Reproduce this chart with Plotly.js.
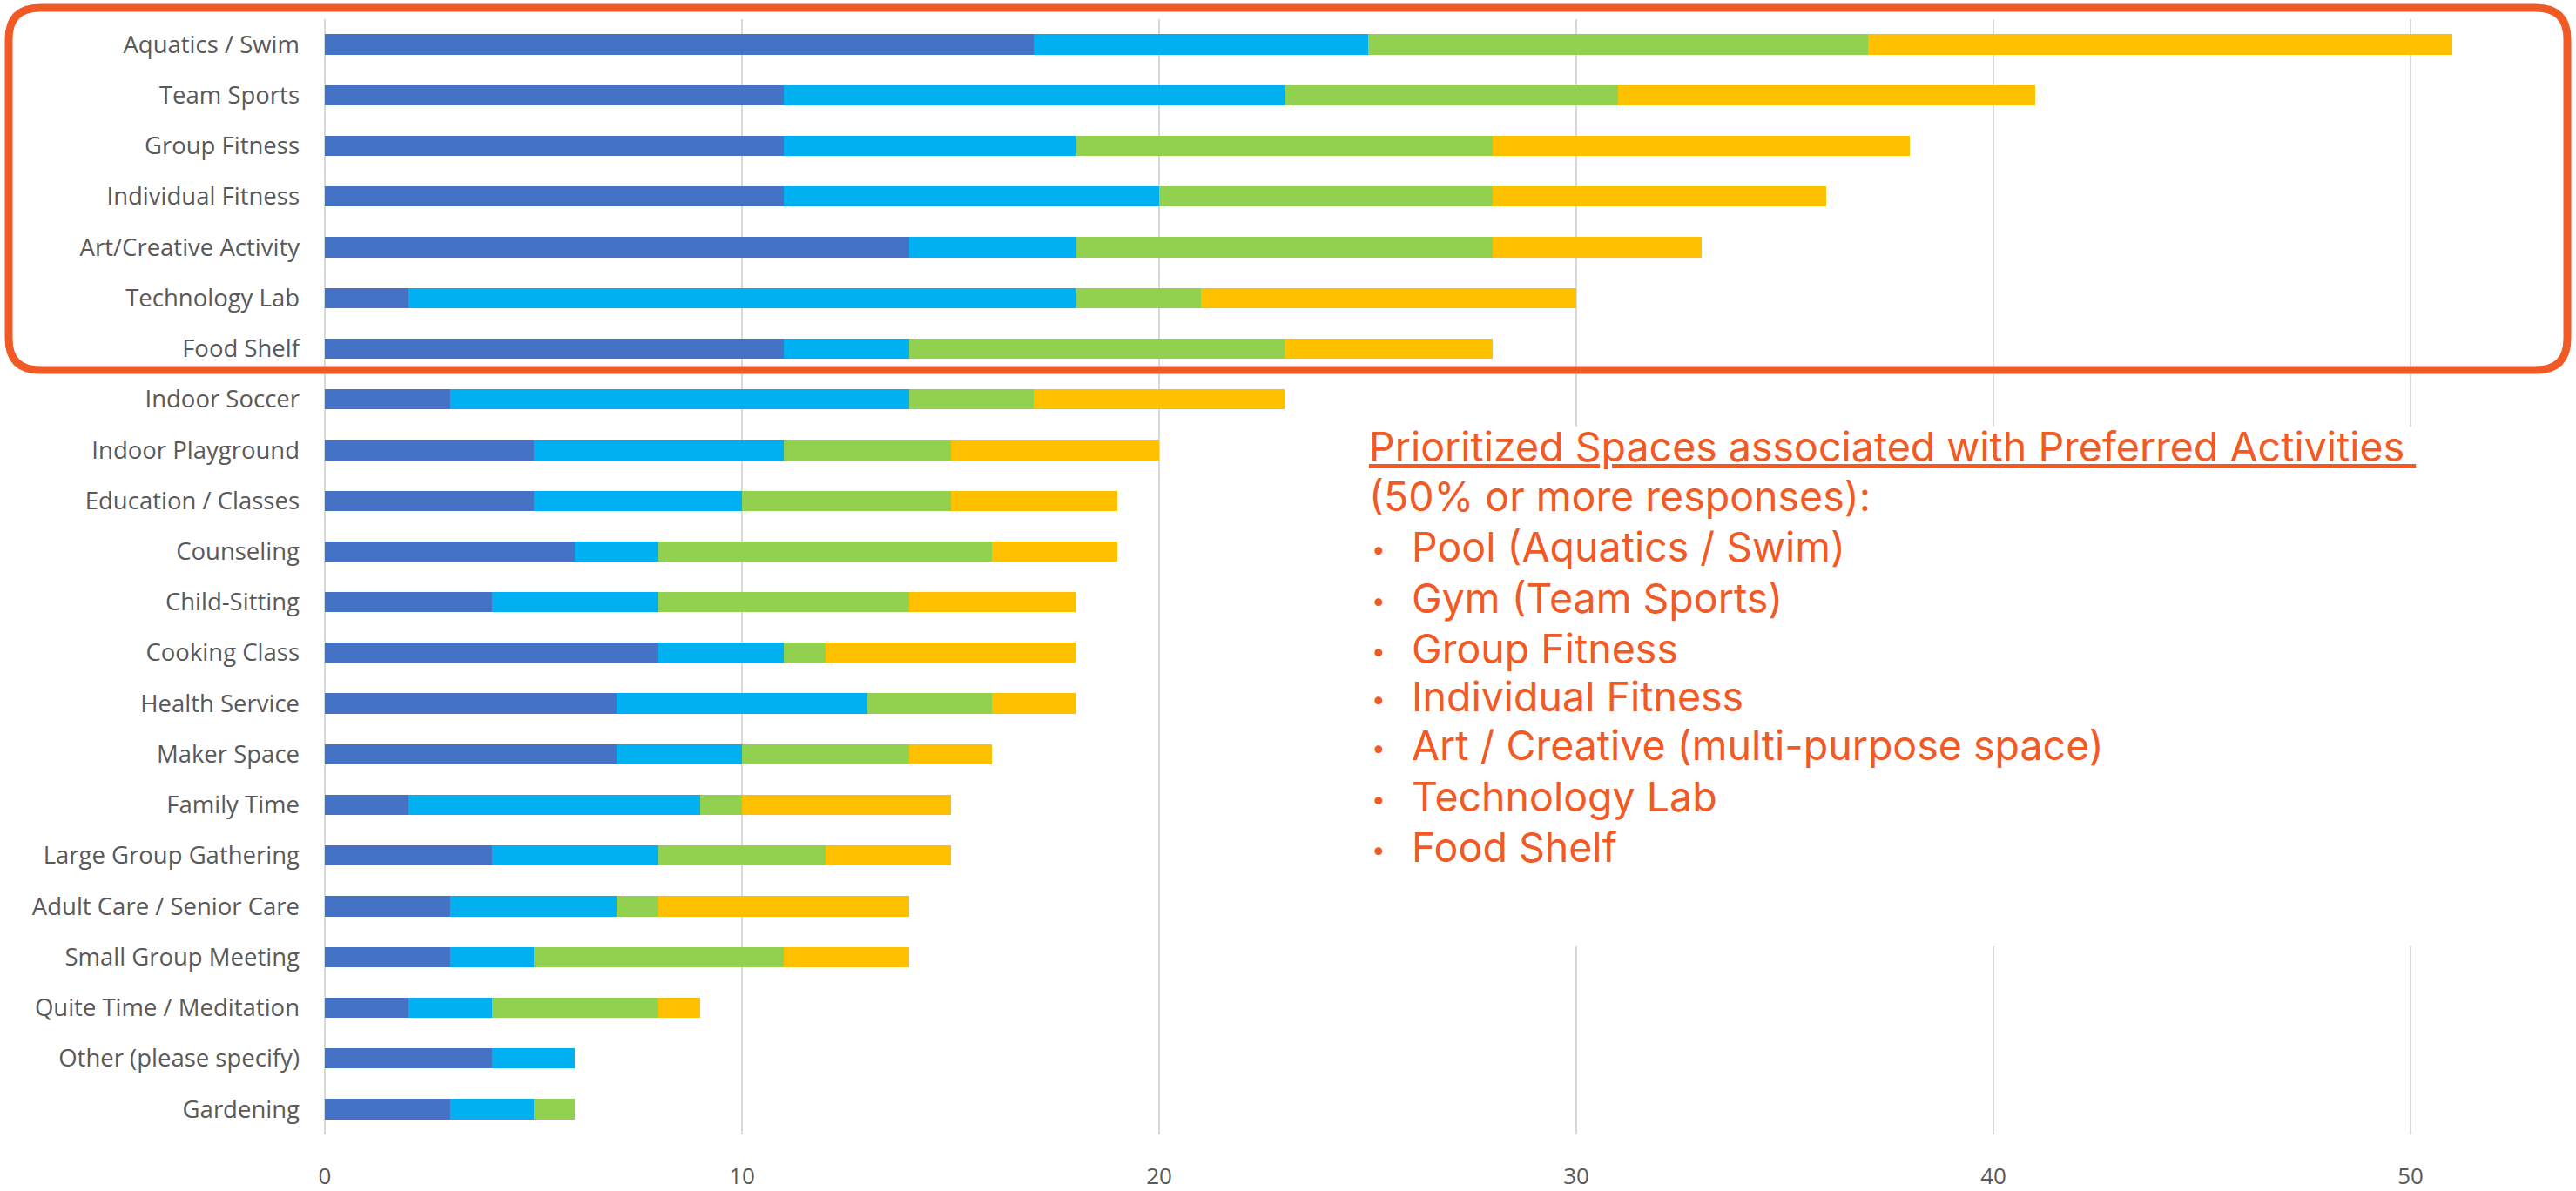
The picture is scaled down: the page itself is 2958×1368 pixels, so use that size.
<!DOCTYPE html>
<html>
<head>
<meta charset="utf-8">
<script src="https://cdn.plot.ly/plotly-3.0.1.min.js"></script>
<style>html,body{margin:0;padding:0;background:#fff;}#chart{width:2958px;height:1368px;}</style>
</head>
<body>
<div id="chart"></div>
<script>
// ---- data ----
const categories = [
  "Aquatics / Swim","Team Sports","Group Fitness","Individual Fitness","Art/Creative Activity",
  "Technology Lab","Food Shelf","Indoor Soccer","Indoor Playground","Education / Classes",
  "Counseling","Child-Sitting","Cooking Class","Health Service","Maker Space","Family Time",
  "Large Group Gathering","Adult Care / Senior Care","Small Group Meeting","Quite Time / Meditation",
  "Other (please specify)","Gardening"
];
const series1 = [17,11,11,11,14, 2,11, 3,5,5,6,4,8,7,7,2,4,3,3,2,4,3];
const series2 = [ 8,12, 7, 9, 4,16, 3,11,6,5,2,4,3,6,3,7,4,4,2,2,2,2];
const series3 = [12, 8,10, 8,10, 3, 9, 3,4,5,8,6,1,3,4,1,4,1,6,4,0,1];
const series4 = [14,10,10, 8, 5, 9, 5, 6,5,4,3,4,6,2,2,5,3,6,3,1,0,0];
const seriesNames = ["Series 1","Series 2","Series 3","Series 4"];
const seriesColors = ["#4472C4","#00B0F0","#92D050","#FFC000"];
const xTicks = [0,10,20,30,40,50];

const noteTitle = "Prioritized Spaces associated with Preferred Activities ";
const noteSub = "(50% or more responses):";
const noteItems = [
  "Pool (Aquatics / Swim)","Gym (Team Sports)","Group Fitness","Individual Fitness",
  "Art / Creative (multi-purpose space)","Technology Lab","Food Shelf"
];

// ---- geometry ----
const W = 2958, H = 1368;
const M = {l:373, r:0, t:22, b:65};
const px = X => (X - M.l) / (W - M.l - M.r);
const py = Y => 1 - (Y - M.t) / (H - M.t - M.b);
const P = (X,Y) => px(X) + "," + py(Y);

const allSeries = [series1, series2, series3, series4];
const traces = allSeries.map((vals, i) => ({
  type: "bar",
  orientation: "h",
  name: seriesNames[i],
  y: categories,
  x: vals,
  marker: {color: seriesColors[i], line: {width: 0}},
  hoverinfo: "x+y+name"
}));

const orange = "#F15A24";
const textFont = "Inter, 'Open Sans', sans-serif";
const textSize = 46.5;

// rounded highlight box
const bx0 = 10, bx1 = 2948, by0 = 9, by1 = 425, rr = 36;
const boxPath = "M" + P(bx0+rr,by0) + " L" + P(bx1-rr,by0) +
  " Q" + P(bx1,by0) + " " + P(bx1,by0+rr) +
  " L" + P(bx1,by1-rr) + " Q" + P(bx1,by1) + " " + P(bx1-rr,by1) +
  " L" + P(bx0+rr,by1) + " Q" + P(bx0,by1) + " " + P(bx0,by1-rr) +
  " L" + P(bx0,by0+rr) + " Q" + P(bx0,by0) + " " + P(bx0+rr,by0) + " Z";

const shapes = [
  {type:"rect", xref:"paper", yref:"paper", x0:px(1560), x1:px(2958), y0:py(490), y1:py(1087),
   fillcolor:"#ffffff", line:{width:0}, layer:"above"},
  {type:"path", xref:"paper", yref:"paper", path: boxPath,
   line:{color:orange, width:9}, fillcolor:"rgba(0,0,0,0)", layer:"above"}
];

const annotations = [];
const lineY = [513, 570, 628, 687, 745, 800, 856, 915, 973];
const mk = (X, Y, text, size) => ({xref:"paper", yref:"paper", x:px(X), y:py(Y), xanchor:"left", yanchor:"middle",
  showarrow:false, borderpad:0, text:text, font:{family:textFont, size:size, color:orange}});
annotations.push(mk(1571, lineY[0], "<u>" + noteTitle.replace(/ $/, "&nbsp;") + "</u>", textSize));
annotations.push(mk(1571, lineY[1], noteSub, textSize));
noteItems.forEach((t, i) => {
  annotations.push(mk(1574, lineY[i+2]+3, "•", 28));
  annotations.push(mk(1620, lineY[i+2], t, textSize));
});

const layout = {
  width: W, height: H,
  margin: M,
  paper_bgcolor: "#ffffff",
  plot_bgcolor: "#ffffff",
  barmode: "stack",
  bargap: 0.6,
  showlegend: false,
  font: {family: "'Open Sans', sans-serif", color: "#595959"},
  xaxis: {
    range: [0, (W - M.l - M.r) / 47.9],
    tickvals: xTicks,
    ticktext: xTicks.map(String),
    showgrid: true, gridcolor: "#D9D9D9", gridwidth: 2,
    zeroline: true, zerolinecolor: "#D9D9D9", zerolinewidth: 2,
    showline: false, ticks: "",
    ticklabelstandoff: 30,
    tickfont: {family: "'Open Sans', sans-serif", size: 26, color: "#595959"}
  },
  yaxis: {
    type: "category",
    autorange: "reversed",
    showgrid: false, zeroline: false, showline: false, ticks: "",
    ticklabelstandoff: 28,
    tickfont: {family: "'Open Sans', sans-serif", size: 27.5, color: "#595959"}
  },
  shapes: shapes,
  annotations: annotations
};

Plotly.newPlot("chart", traces, layout, {displayModeBar: false, staticPlot: true});
</script>
</body>
</html>
